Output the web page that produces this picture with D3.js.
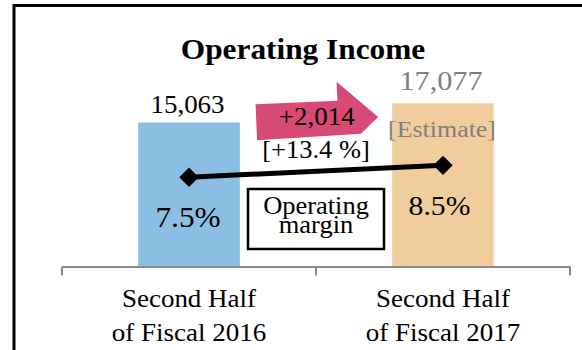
<!DOCTYPE html>
<html>
<head>
<meta charset="utf-8">
<script src="https://cdn.jsdelivr.net/npm/d3@7"></script>
<style>
  html, body { margin: 0; padding: 0; background: #fff; }
  svg { display: block; }
</style>
</head>
<body>
<svg id="chart" width="582" height="350"></svg>
<script>
// Operating income by half-year, with operating margin overlaid
const categories = ["Second Half\nof Fiscal 2016", "Second Half\nof Fiscal 2017"];
const incomeValues = [15063, 17077];
const incomeLabels = ["15,063", "17,077"];
const marginValues = [7.5, 8.5];
const marginLabels = ["7.5%", "8.5%"];
const changeLabels = ["+2,014", "[+13.4 %]"];
const estimateNote = "[Estimate]";
const legendLabel = "Operating\nmargin";

const barColors = ["#8bbee3", "#f1cd9d"];
const valueColors = ["#000000", "#808080"];

// pick the first installed Times-like serif face
function hasFont(name) {
  const ctx = document.createElement("canvas").getContext("2d");
  const probe = "Operating Income 0123456789";
  return ["monospace", "sans-serif"].every(fb => {
    ctx.font = `40px ${fb}`;
    const base = ctx.measureText(probe).width;
    ctx.font = `40px "${name}", ${fb}`;
    return ctx.measureText(probe).width !== base;
  });
}
const serifCandidates = ["Liberation Serif", "Times New Roman", "Tinos", "Nimbus Roman", "Nimbus Roman No9 L", "Times", "FreeSerif", "Noto Serif"];
const serifFace = serifCandidates.find(hasFont);
const FONT = serifFace ? `"${serifFace}", serif` : "serif";
const SX = serifFace && /Liberation|Times|Tinos|Nimbus|Free/.test(serifFace) ? 1.08 : 0.95;

const svg = d3.select("#chart");

// outer frame (runs off the right and bottom edges)
svg.append("rect")
  .attr("x", 14).attr("y", 5.5)
  .attr("width", 620).attr("height", 420)
  .attr("fill", "none").attr("stroke", "#000").attr("stroke-width", 3);

const x = d3.scaleBand().domain(categories).range([62, 570]).padding(0);
const y = d3.scaleLinear().domain([0, 20000]).range([266.5, 75.3]);
const y2 = d3.scaleLinear().domain([0, 16]).range([266.5, 76.1]);
const barW = x.bandwidth() * 0.4;
const cx = c => x(c) + x.bandwidth() / 2;

// centred serif label; "\n" splits it into stacked lines of one text element
function label(g, px, py, str, size, opts = {}) {
  const t = g.append("text")
    .attr("transform", `translate(${px},${py}) scale(${SX},1)`)
    .attr("text-anchor", "middle")
    .attr("font-family", FONT)
    .attr("font-size", size)
    .attr("font-weight", opts.bold ? "bold" : "normal")
    .attr("fill", opts.fill || "#000");
  const lines = str.split("\n");
  if (lines.length === 1) return t.text(str);
  lines.forEach((ln, k) => {
    t.append("tspan").attr("x", 0).attr("y", k * (opts.lineGap || size)).text(ln);
  });
  return t;
}

// bars
svg.append("g").selectAll("rect")
  .data(categories)
  .join("rect")
  .attr("x", d => cx(d) - barW / 2)
  .attr("width", barW)
  .attr("y", (d, i) => y(incomeValues[i]))
  .attr("height", (d, i) => y(0) - y(incomeValues[i]))
  .attr("fill", (d, i) => barColors[i]);

// category axis: baseline plus boundary ticks
const axisG = svg.append("g").attr("transform", `translate(0,${y(0)})`)
  .call(d3.axisBottom(x).tickSize(0).tickFormat(""));
axisG.select(".domain").attr("stroke", "#8a8a8a").attr("stroke-width", 2);
const bounds = categories.map(c => x(c)).concat([x.range()[1]]);
axisG.selectAll("line.bound")
  .data(bounds)
  .join("line")
  .attr("class", "bound")
  .attr("x1", d => d).attr("x2", d => d)
  .attr("y1", 0).attr("y2", 9)
  .attr("stroke", "#8a8a8a").attr("stroke-width", 2);

const catG = svg.append("g");
categories.forEach(c => label(catG, cx(c), 307, c, 25, { lineGap: 34 }));

// title
label(svg, 303, 58.5, "Operating Income", 29, { bold: true });

// bar value labels
const offsets = [9.5, 13.7];
const sizes = [25, 28];
categories.forEach((c, i) => {
  label(svg, cx(c) - 1.5 + (i ? -0.5 : 0), y(incomeValues[i]) - offsets[i], incomeLabels[i], sizes[i], { fill: valueColors[i] });
});
label(svg, cx(categories[1]) - 1, y(incomeValues[1]) + 33.5, estimateNote, 24, { fill: "#808080" });

// growth arrow between the bars
const arrowPts = [[0, -18], [82, -18], [82, -37], [122, 0], [104, 16], [0, 18]];
svg.append("path")
  .attr("transform", "translate(256.3,122.2) rotate(-2.5)")
  .attr("d", d3.line()(arrowPts) + "Z")
  .attr("fill", "#d84a76");
label(svg, 316.7, 124.5, changeLabels[0], 25);
label(svg, 316, 158, changeLabels[1], 24.5);

// operating margin line
const linePts = categories.map((c, i) => [cx(c), y2(marginValues[i])]);
svg.append("path")
  .attr("d", d3.line()(linePts))
  .attr("fill", "none").attr("stroke", "#000").attr("stroke-width", 5);
svg.append("g").selectAll("path")
  .data(linePts)
  .join("path")
  .attr("transform", d => `translate(${d[0]},${d[1]})`)
  .attr("d", "M0,-9.7L9.7,0L0,9.7L-9.7,0Z")
  .attr("fill", "#000");

const mSizes = [29, 27.5];
categories.forEach((c, i) => {
  label(svg, cx(c) - (i ? 3.5 : 1), y2(marginValues[i]) + 50, marginLabels[i], mSizes[i]);
});

// legend box for the line
svg.append("rect")
  .attr("x", 248).attr("y", 189)
  .attr("width", 136).attr("height", 60)
  .attr("fill", "#fff").attr("stroke", "#000").attr("stroke-width", 2.5);
label(svg, 316, 214, legendLabel, 24.5, { lineGap: 18.5 });
</script>
</body>
</html>
